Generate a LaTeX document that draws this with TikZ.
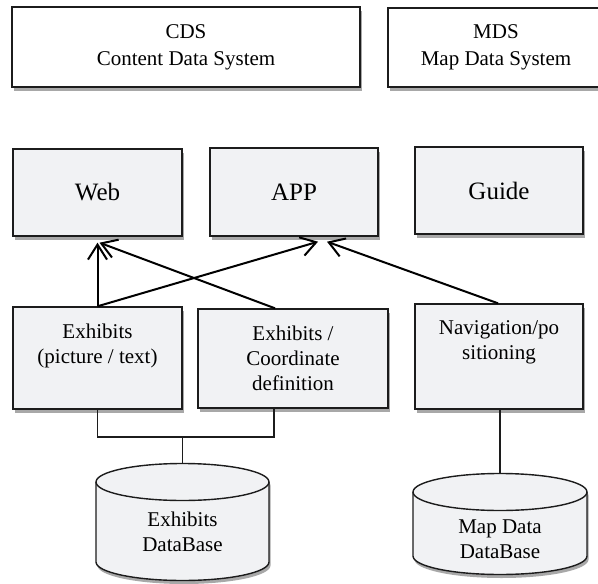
\documentclass[tikz,border=0pt]{standalone}
\usepackage{fontspec}
\setmainfont{Liberation Serif}
\usetikzlibrary{arrows.meta,calc,shadows}
\definecolor{boxfill}{RGB}{241,242,244}
\definecolor{shgray}{RGB}{168,168,168}
\definecolor{ink}{RGB}{28,28,28}
\newcommand{\fsTop}{\fontsize{25}{30}\selectfont}
\newcommand{\fsHead}{\fontsize{21}{27}\selectfont}
\newcommand{\fsLow}{\fontsize{21}{25}\selectfont}
\begin{document}
\begin{tikzpicture}[x=1pt,y=-1pt,
  sbox/.style={draw=ink, line width=1.4pt, fill=boxfill, inner sep=0pt,
    drop shadow={shadow xshift=1.5pt, shadow yshift=-3.5pt, fill=shgray, opacity=1}},
  lbl/.style={anchor=north, yshift=-17pt, inner sep=0pt, align=center, font=\fsLow},
  conn/.style={draw=ink, line width=1.4pt},
  arr/.style={draw=black, line width=2pt, -{Straight Barb[length=15pt,width=19pt]}},
  dbtext/.style={font=\fsLow, align=center, inner sep=0pt}]
\useasboundingbox (0,0) rectangle (598,584);
\fill[white] (0,0) rectangle (598,584);

% header boxes
\node[sbox, fill=white, minimum width=348pt, minimum height=80pt, align=center, font=\fsHead] (cds) at (186,47) {CDS\\Content Data System};
\node[sbox, fill=white, minimum width=216pt, minimum height=79pt, align=center, font=\fsHead] (mds) at (496,47.5) {MDS\\Map Data System};

% output row
\node[sbox, minimum width=169pt, minimum height=87pt, font=\fsTop] (web) at (97.5,192.5) {Web};
\node[sbox, minimum width=168pt, minimum height=88pt, font=\fsTop] (app) at (294,192) {APP};
\node[sbox, minimum width=168pt, minimum height=87pt, font=\fsTop] (guide) at (499,190.5) {Guide};

% function row
\node[sbox, minimum width=169pt, minimum height=102pt, label={[lbl]north:Exhibits\\(picture / text)}] (exa) at (97.5,358) {};
\node[sbox, minimum width=190pt, minimum height=99pt, label={[lbl]north:Exhibits /\\Coordinate\\definition}] (exb) at (293,358.5) {};
\node[sbox, minimum width=168pt, minimum height=105pt, label={[lbl]north:Navigation/po\\sitioning}] (nav) at (499,356.5) {};

% databases
\foreach \cx/\yt/\yb/\rx in {182.5/482/562/86.5, 500/492/556/87}{
  \fill[shgray] ($(\cx,\yt)+(-\rx+1.5,3.5)$) -- ($(\cx,\yb)+(-\rx+1.5,3.5)$)
     arc[start angle=180, end angle=360, x radius=\rx pt, y radius=18.5pt]
     -- ($(\cx,\yt)+(\rx+1.5,3.5)$)
     arc[start angle=0, end angle=180, x radius=\rx pt, y radius=18.5pt] -- cycle;
  \filldraw[fill=boxfill, draw=ink, line width=1.4pt] ($(\cx,\yt)+(-\rx,0)$) -- ($(\cx,\yb)+(-\rx,0)$)
     arc[start angle=180, end angle=360, x radius=\rx pt, y radius=18.5pt]
     -- ($(\cx,\yt)+(\rx,0)$)
     arc[start angle=0, end angle=180, x radius=\rx pt, y radius=18.5pt] -- cycle;
  \draw[draw=ink, line width=1.4pt] ($(\cx,\yt)+(-\rx,0)$)
     arc[start angle=180, end angle=360, x radius=\rx pt, y radius=18.5pt];
}
\coordinate (dbA) at (182.5,463.5);
\coordinate (dbB) at (500,473.5);
\node[dbtext] (dbAt) at (182.5,532) {Exhibits\\DataBase};
\node[dbtext] (dbBt) at (500,539) {Map Data\\DataBase};

% connectors
\coordinate (jB) at (274,437);
\draw[conn] (exa.south) |- (jB) -- (jB |- exb.south);
\draw[conn] (dbA) -- (dbA |- jB);
\draw[conn] (dbB) -- (dbB |- nav.south);

% arrows
\draw[arr] (exa.north) -- ($(web.south)+(0,6)$);
\draw[arr] ($(exb.north)+(-18,0)$) -- ($(web.south)+(2,6)$);
\draw[arr] (exa.north) -- ($(app.south)+(24,5)$);
\draw[arr] ($(nav.north)+(-1,0)$) -- ($(app.south)+(33,5)$);
\end{tikzpicture}
\end{document}
